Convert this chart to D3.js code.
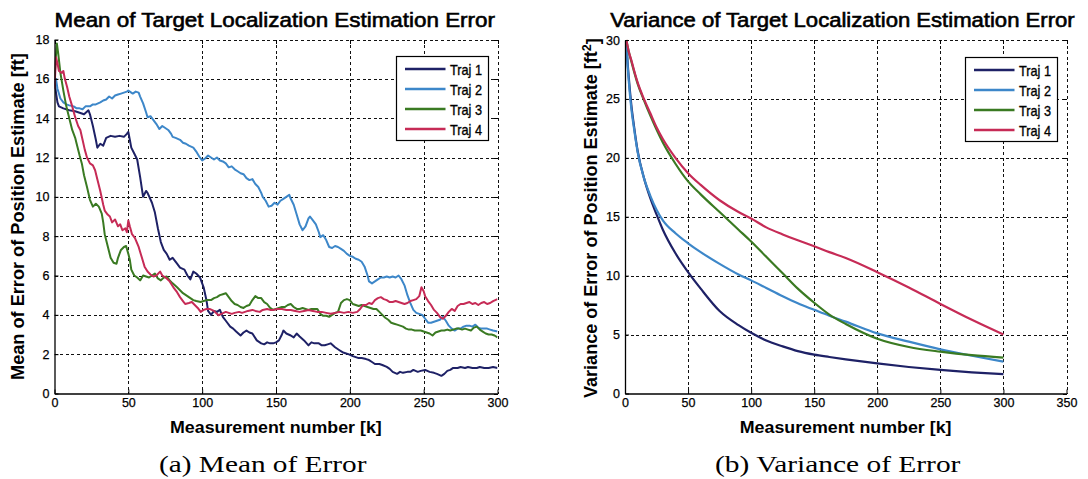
<!DOCTYPE html>
<html>
<head>
<meta charset="utf-8">
<script src="https://cdn.jsdelivr.net/npm/d3@7"></script>
<style>
  body { margin: 0; background: #fff; }
  svg { display: block; }
  text { font-family: "Liberation Sans", Arial, sans-serif; fill: #000; }
</style>
</head>
<body>
<svg id="chart" width="1088" height="479"></svg>
<script>
// ---------- data: mean of localization error, [k, ft] ----------
const mean1 = [[0,15.9],[1,15.3],[2,14.8],[3,14.6],[6,14.5],[10,14.4],[14,14.35],[18,14.25],[20,14.2],[23,14.4],[24,14.2],[26,13.6],[28,12.9],[29,12.5],[31,12.7],[33,12.6],[35,13.0],[38,13.1],[41,13.05],[44,13.1],[47,13.05],[49,13.2],[50,13.3],[51,12.9],[52,12.5],[54,12.2],[56,11.9],[58,11.0],[60,10.0],[62,10.3],[63,10.2],[66,9.7],[68,9.2],[70,8.4],[72,7.7],[74,7.3],[76,7.1],[78,6.8],[80,6.9],[83,6.6],[85,6.4],[88,6.3],[90,6.0],[92,5.8],[94,6.2],[96,6.1],[98.5,5.9],[101,5.4],[103,4.7],[104,4.2],[106,4.0],[108,4.2],[110,4.15],[112,4.25],[114,3.9],[116,3.7],[119,3.4],[121,3.3],[123,3.15],[126,2.95],[128,3.1],[130,3.2],[132,3.1],[134,3.05],[137,2.7],[140,2.55],[142,2.5],[144,2.6],[146,2.55],[148,2.55],[150,2.6],[152,2.7],[154,3.0],[155,3.2],[157,3.05],[160,2.95],[162,2.85],[164,3.05],[166,2.9],[169,2.7],[172,2.45],[174,2.6],[176,2.55],[179,2.55],[181,2.45],[183,2.45],[185,2.5],[187,2.55],[190,2.35],[193,2.2],[195,2.1],[197,2.05],[199,2.0],[202,1.9],[204,1.85],[206,1.8],[208,1.8],[211,1.75],[213,1.7],[215,1.6],[217,1.5],[220,1.5],[222,1.45],[225,1.35],[227,1.25],[229,1.1],[232,1.0],[234,1.1],[236,1.05],[239,1.1],[241,1.1],[243,1.2],[246,1.1],[248,1.15],[251,1.2],[254,1.1],[257,1.05],[259,1.0],[262,0.9],[264,1.0],[266,1.15],[268,1.2],[270,1.3],[273,1.3],[275,1.35],[278,1.3],[280,1.35],[283,1.3],[286,1.3],[288,1.35],[291,1.3],[294,1.3],[297,1.35],[300,1.3]];
const mean2 = [[0,15.9],[1,16.0],[2,15.5],[4,15.0],[6,14.8],[8,14.7],[10,14.65],[13,14.6],[15,14.5],[17,14.5],[19,14.45],[21,14.6],[24,14.6],[26,14.7],[28,14.7],[31,14.8],[33,14.9],[35,14.95],[37,15.1],[39,15.0],[41,15.15],[43,15.2],[45,15.25],[47,15.3],[49,15.35],[50,15.4],[52,15.3],[53,15.25],[55,15.35],[57,15.3],[58,15.1],[60,14.75],[62,14.3],[63,14.05],[65,14.1],[67,13.9],[69,13.7],[71,13.45],[73,13.6],[75,13.5],[77,13.4],[79,13.2],[80,13.05],[82,13.0],[85,12.9],[87,12.75],[89,12.7],[91,12.6],[94,12.5],[96,12.3],[98,12.05],[100,11.85],[102,11.95],[104,12.1],[106,12.0],[108,11.9],[110,12.0],[112,11.85],[114,11.8],[116,11.7],[118,11.5],[120,11.55],[122,11.4],[124,11.3],[126,11.2],[128,11.15],[130,10.95],[132,10.85],[134,10.9],[136,10.65],[138,10.5],[140,10.2],[141,10.0],[143,9.8],[145,9.5],[147,9.55],[149,9.7],[151,9.6],[153,9.8],[155,9.9],[157,10.0],[159,10.1],[160,9.9],[162,9.6],[164,9.1],[166,8.6],[168,8.3],[170,8.5],[172,8.9],[173,9.0],[175,8.8],[177,8.6],[179,8.2],[180,7.95],[182,8.05],[184,7.8],[186,7.45],[188,7.4],[190,7.5],[192,7.45],[194,7.35],[196,7.25],[198,7.1],[200,7.0],[202,6.95],[204,6.85],[206,6.8],[208,6.7],[210,6.45],[212,6.0],[213,5.7],[215,5.6],[217,5.7],[219,5.8],[221,5.9],[223,5.9],[225,5.95],[227,5.9],[229,5.95],[231,5.9],[233,6.0],[235,5.8],[237,5.5],[239,5.0],[241,4.6],[243,4.25],[245,4.1],[247,4.05],[249,4.0],[251,3.8],[253,3.6],[255,3.6],[257,3.65],[259,3.7],[261,3.75],[263,3.9],[265,3.7],[267,3.45],[269,3.3],[271,3.2],[273,3.3],[275,3.3],[277,3.4],[279,3.45],[281,3.45],[283,3.4],[285,3.5],[287,3.35],[289,3.3],[291,3.3],[293,3.3],[295,3.25],[297,3.2],[300,3.15]];
const mean3 = [[0,16.0],[1,17.2],[1.6,17.8],[2.5,17.3],[4,16.3],[6,15.4],[8,14.6],[10,14.0],[12,13.4],[14,13.0],[15,12.7],[17,12.1],[18.5,11.7],[20,11.1],[22,10.5],[24,9.85],[26,9.5],[28,9.65],[30,9.5],[32,9.15],[33,8.7],[34,8.1],[36,7.5],[38,6.9],[40,6.65],[42,6.6],[43,6.9],[45,7.3],[47,7.45],[48.5,7.5],[50,7.1],[51,6.8],[52,6.3],[54,6.0],[56,5.9],[58,5.75],[60,6.0],[62,5.95],[64,5.9],[66,6.0],[68,6.1],[70,5.85],[72,5.75],[74,5.9],[76,5.95],[78,5.75],[80,5.6],[83,5.4],[85,5.25],[87,5.1],[89,5.0],[92,4.85],[94,4.75],[96,4.7],[99,4.65],[101,4.7],[103,4.75],[106,4.75],[108,4.85],[110,4.9],[112,5.0],[114,5.05],[116,5.1],[118,4.9],[120,4.7],[122,4.55],[124,4.5],[126,4.4],[128,4.35],[130,4.45],[132,4.5],[134,4.75],[136,4.95],[138,4.85],[140,4.85],[142,4.65],[144,4.55],[146,4.35],[148,4.25],[150,4.3],[152,4.35],[154,4.4],[156,4.4],[158,4.5],[160,4.55],[162,4.4],[164,4.3],[166,4.3],[168,4.35],[170,4.3],[172,4.25],[174,4.3],[176,4.3],[178,4.3],[180,4.05],[182,3.95],[184,3.95],[186,3.9],[188,4.0],[190,4.1],[192,4.15],[194,4.6],[196,4.75],[198,4.8],[200,4.75],[202,4.55],[204,4.5],[206,4.45],[208,4.5],[210,4.45],[212,4.4],[214,4.35],[216,4.3],[218,4.3],[220,4.15],[222,4.0],[224,3.85],[226,3.75],[228,3.6],[230,3.55],[232,3.5],[234,3.45],[236,3.4],[238,3.3],[240,3.25],[242,3.25],[244,3.2],[246,3.2],[248,3.2],[250,3.15],[252,3.1],[254,3.05],[256,2.95],[258,3.1],[260,3.15],[262,3.2],[264,3.2],[266,3.25],[268,3.2],[270,3.25],[272,3.3],[274,3.3],[276,3.25],[278,3.3],[280,3.25],[282,3.2],[284,3.35],[286,3.4],[288,3.25],[290,3.15],[292,3.05],[294,3.0],[296,3.0],[298,2.95],[300,2.85]];
const mean4 = [[0,15.5],[1,17.1],[2,16.8],[3,16.4],[5,16.3],[6,16.4],[7,16.0],[8.5,15.6],[10,15.1],[12,14.6],[14,14.05],[16,13.6],[17.5,13.4],[19,12.9],[20.5,12.4],[22,12.0],[24,11.7],[26,11.6],[27.5,11.35],[29,10.9],[31,10.3],[33,9.6],[34,9.3],[36,9.1],[37.5,9.0],[39,8.7],[41,8.85],[43,8.5],[44.5,8.6],[46,8.3],[48,8.4],[49,8.2],[50,8.8],[51,8.5],[52.5,8.1],[54.5,7.9],[57,7.45],[59,6.95],[61,6.45],[63,6.2],[65,6.05],[67,5.95],[69,6.0],[71.5,6.2],[73,6.0],[76,5.85],[78,5.7],[80.5,5.4],[83,5.15],[85,4.9],[87,4.7],[88.5,4.55],[91,4.6],[93,4.65],[95,4.5],[97,4.35],[99,4.15],[101,4.25],[103,4.3],[105,4.3],[108,4.2],[110,4.05],[111,3.98],[113,4.05],[116,4.15],[118,4.1],[120,4.05],[122,4.1],[125,4.15],[127,4.1],[129,4.15],[131,4.2],[134,4.25],[136,4.2],[139,4.15],[141,4.25],[144,4.3],[146,4.25],[148,4.25],[151,4.3],[154,4.3],[157,4.25],[160,4.25],[163,4.2],[166,4.15],[169,4.2],[172,4.25],[175,4.2],[178,4.15],[181,4.15],[184,4.1],[187,4.05],[190,4.1],[193,4.15],[196,4.1],[199,4.15],[202,4.1],[205,4.15],[207,4.3],[209,4.5],[211,4.5],[213,4.6],[215,4.55],[217,4.75],[219,4.85],[221,4.9],[223,4.8],[225,4.75],[227,4.65],[229,4.65],[231,4.7],[233,4.65],[235,4.6],[237,4.55],[239,4.6],[241,4.7],[243,4.75],[245,4.8],[247,4.95],[248.5,5.4],[250,5.2],[251,4.95],[253,4.7],[255,4.5],[257,4.25],[259,4.1],[261,3.9],[263,3.8],[265,3.95],[267,4.15],[269,4.3],[271,4.2],[273,4.45],[275,4.55],[277,4.55],[279,4.6],[281,4.65],[283,4.55],[285,4.6],[287,4.5],[289,4.6],[291,4.65],[293,4.55],[295,4.6],[297,4.7],[300,4.8]];

// ---------- data: variance of localization error, [k, ft^2] ----------
const varK = [1,2,3,5,7,10,15,20,25,30,40,50,60,75,90,100,112,125,137,150,162,175,200,225,250,275,300];
const var1 = [30,28.2,26.8,24.5,22.8,20.6,18.3,16.6,15.2,13.9,11.9,10.3,8.9,7.0,5.8,5.15,4.5,4.0,3.6,3.3,3.1,2.9,2.55,2.25,2.0,1.8,1.65];
const var2 = [30,28.0,26.5,24.2,22.6,20.5,18.3,16.8,15.6,14.7,13.6,12.75,12.0,11.0,10.1,9.6,8.95,8.25,7.65,7.1,6.6,6.1,5.1,4.4,3.75,3.2,2.7];
const var3 = [30,29.5,29.0,28.2,27.4,26.3,24.9,23.6,22.4,21.3,19.5,18.0,16.9,15.4,13.9,12.9,11.6,10.2,8.9,7.7,6.7,5.9,4.65,3.95,3.55,3.25,3.05];
const var4 = [30,29.5,29.0,28.3,27.5,26.4,25.0,23.8,22.6,21.6,20.0,18.7,17.7,16.4,15.4,14.85,14.1,13.5,13.0,12.5,12.0,11.5,10.3,9.0,7.6,6.25,5.0];

// ---------- labels and ticks ----------
const seriesNames = ["Traj 1", "Traj 2", "Traj 3", "Traj 4"];
const seriesColors = ["#1e2166", "#3d87c9", "#3a7a22", "#c62b56"];
const meanXTicks = [0, 50, 100, 150, 200, 250, 300];
const meanYTicks = [0, 2, 4, 6, 8, 10, 12, 14, 16, 18];
const varXTicks = [0, 50, 100, 150, 200, 250, 300, 350];
const varYTicks = [0, 5, 10, 15, 20, 25, 30];

const svg = d3.select("#chart");
svg.append("rect").attr("width", 1088).attr("height", 479).attr("fill", "#fff");

// Places a text centred at (x, y), rotated by rot and squeezed to the given width.
function placeText(parts, x, y, o) {
  const g = svg.append("g");
  const t = g.append("text")
    .attr("font-size", o.size)
    .attr("font-weight", o.weight || "normal")
    .style("font-family", o.family || null);
  if (o.stroke) t.attr("stroke", "#000").attr("stroke-width", o.stroke);
  parts.forEach(p => {
    const s = t.append("tspan").text(p.text);
    if (p.sup) s.attr("dy", "-0.45em").attr("font-size", o.size * 0.7);
    if (p.after) s.attr("dy", "0.45em");
  });
  const w = t.node().getBBox().width;
  const sx = o.width ? o.width / w : 1;
  g.attr("transform", `translate(${x},${y}) rotate(${o.rot || 0}) scale(${sx},1) translate(${-w / 2},0)`);
  return g;
}

function drawPanel(p) {
  const x = d3.scaleLinear().domain([p.xTicks[0], p.xTicks[p.xTicks.length - 1]]).range([p.left, p.right]);
  const y = d3.scaleLinear().domain([p.yTicks[0], p.yTicks[p.yTicks.length - 1]]).range([p.bottom, p.top]);
  const g = svg.append("g");

  // dotted grid, including the top and right edges of the box
  const grid = g.append("g").attr("stroke", "#111").attr("stroke-width", 1)
    .attr("stroke-dasharray", "3,2.6").attr("shape-rendering", "crispEdges");
  grid.selectAll(".gx").data(p.xTicks.slice(1)).join("line")
    .attr("x1", d => Math.round(x(d)) + 0.5).attr("x2", d => Math.round(x(d)) + 0.5)
    .attr("y1", p.top).attr("y2", p.bottom);
  grid.selectAll(".gy").data(p.yTicks.slice(1)).join("line")
    .attr("y1", d => Math.round(y(d)) + 0.5).attr("y2", d => Math.round(y(d)) + 0.5)
    .attr("x1", p.left).attr("x2", p.right);

  // inward tick marks on the top and right edges
  const tk = g.append("g").attr("stroke", "#000").attr("stroke-width", 1).attr("shape-rendering", "crispEdges");
  tk.selectAll(".tt").data(p.xTicks).join("line")
    .attr("x1", d => Math.round(x(d)) + 0.5).attr("x2", d => Math.round(x(d)) + 0.5)
    .attr("y1", p.top).attr("y2", p.top + 4);
  tk.selectAll(".tr").data(p.yTicks).join("line")
    .attr("y1", d => Math.round(y(d)) + 0.5).attr("y2", d => Math.round(y(d)) + 0.5)
    .attr("x1", p.right).attr("x2", p.right - 4);

  // series
  const clipId = "clip" + p.id;
  svg.append("clipPath").attr("id", clipId).append("rect")
    .attr("x", p.left).attr("y", p.top - 2).attr("width", p.right - p.left).attr("height", p.bottom - p.top + 2);
  const line = d3.line().x(d => x(d[0])).y(d => y(d[1])).curve(p.curve);
  g.append("g").attr("clip-path", `url(#${clipId})`)
    .selectAll("path").data(p.series).join("path")
    .attr("d", d => line(d))
    .attr("fill", "none")
    .attr("stroke", (d, i) => seriesColors[i])
    .attr("stroke-width", p.lineWidth)
    .attr("stroke-linejoin", "round");

  // axes
  const ax = g.append("g").attr("transform", `translate(0,${p.bottom})`)
    .call(d3.axisBottom(x).tickValues(p.xTicks).tickSizeInner(-4).tickSizeOuter(0).tickPadding(5));
  const ay = g.append("g").attr("transform", `translate(${p.left},0)`)
    .call(d3.axisLeft(y).tickValues(p.yTicks).tickSizeInner(-4).tickSizeOuter(0).tickPadding(5));
  [ax, ay].forEach(a => {
    a.select(".domain").attr("stroke", "#000").attr("stroke-width", 1.3);
    a.selectAll(".tick line").attr("stroke", "#000");
    a.selectAll(".tick text").attr("font-size", 12.5)
      .style("font-family", "'Liberation Sans', Arial, sans-serif").attr("fill", "#000")
      .attr("stroke", "#000").attr("stroke-width", 0.25);
  });

  // legend
  const lg = g.append("g");
  lg.append("rect").attr("x", p.legend.x).attr("y", p.legend.y)
    .attr("width", p.legend.w).attr("height", p.legend.h)
    .attr("fill", "#fff").attr("stroke", "#000").attr("stroke-width", 1.2);
  seriesNames.forEach((name, i) => {
    const yy = p.legend.y + 12.5 + i * 20;
    lg.append("line").attr("x1", p.legend.x + 8.5).attr("x2", p.legend.x + 49)
      .attr("y1", yy).attr("y2", yy).attr("stroke", seriesColors[i]).attr("stroke-width", 2.4);
    lg.append("text").attr("x", p.legend.x + 53.5).attr("y", yy + 5.5)
      .attr("font-size", 15).attr("textLength", 32).attr("lengthAdjust", "spacingAndGlyphs")
      .attr("stroke", "#000").attr("stroke-width", 0.35)
      .text(name);
  });

  // title and axis labels
  placeText([{ text: p.title }], (p.left + p.right) / 2 + p.titleShift, 27, { size: 20, width: p.titleWidth, stroke: 0.6 });
  placeText([{ text: "Measurement number [k]" }], (p.left + p.right) / 2, 433, { size: 16.5, weight: "bold", width: 212 });
  placeText(p.yLabel, p.yLabelX, p.yLabelY, { size: 18, weight: "bold", rot: -90, width: p.yLabelWidth });
  placeText([{ text: p.caption }], p.captionX, 472, { size: 23, width: p.captionWidth, family: "'Liberation Serif', 'DejaVu Serif', serif" });
}

drawPanel({
  id: "mean", left: 54.5, right: 497.5, top: 39.5, bottom: 393.5,
  xTicks: meanXTicks, yTicks: meanYTicks,
  series: [mean1, mean2, mean3, mean4], curve: d3.curveLinear, lineWidth: 2,
  legend: { x: 396.5, y: 56.5, w: 92, h: 84 },
  title: "Mean of Target Localization Estimation Error", titleShift: -1, titleWidth: 441,
  yLabel: [{ text: "Mean of Error of Position Estimate [ft]" }], yLabelX: 24, yLabelY: 216.5, yLabelWidth: 327,
  caption: "(a) Mean of Error", captionX: 263, captionWidth: 208
});

drawPanel({
  id: "var", left: 625, right: 1066.5, top: 40, bottom: 393.5,
  xTicks: varXTicks, yTicks: varYTicks,
  series: [var1, var2, var3, var4].map(v => v.map((d, i) => [varK[i], d])), curve: d3.curveMonotoneX, lineWidth: 2.2,
  legend: { x: 965.5, y: 57.5, w: 92, h: 84 },
  title: "Variance of Target Localization Estimation Error", titleShift: -3, titleWidth: 465,
  yLabel: [{ text: "Variance of Error of Position Estimate [ft" }, { text: "2", sup: true }, { text: "]", after: true }],
  yLabelX: 597, yLabelY: 218, yLabelWidth: 360,
  caption: "(b) Variance of Error", captionX: 838, captionWidth: 246
});
</script>
</body>
</html>
